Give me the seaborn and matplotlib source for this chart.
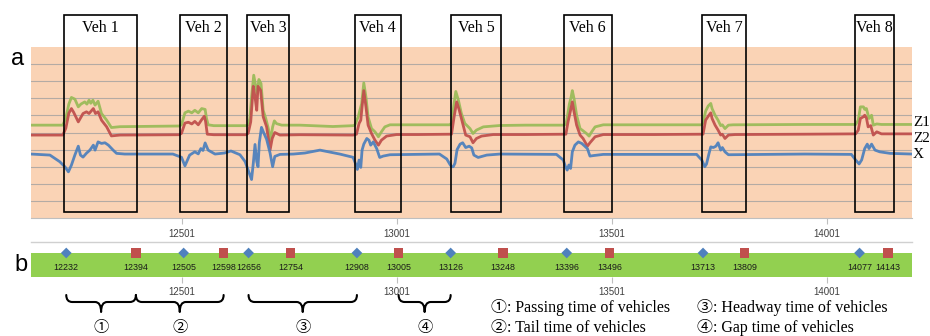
import matplotlib
matplotlib.use("Agg")
import matplotlib.pyplot as plt
import seaborn as sns
import pandas as pd
from matplotlib.patches import Rectangle, PathPatch
from matplotlib.path import Path

# ---------------- data ----------------
z1_t = [12150, 12224, 12231, 12238, 12244, 12252, 12260, 12266, 12275, 12280, 12285, 12289, 12294, 12299, 12306, 12314, 12326, 12337, 12357,
        12495, 12500, 12508, 12516, 12524, 12531, 12539, 12547, 12555, 12558, 12562, 12575,
        12650, 12655, 12659, 12663, 12668, 12673, 12676, 12680, 12685, 12690, 12696, 12702, 12707, 12712, 12716, 12721, 12733,
        12775, 12852, 12899,
        12903, 12911, 12915, 12919, 12924, 12929, 12934, 12942, 12950, 12958, 12965, 12973, 12985, 13050,
        13124, 13128, 13134, 13138, 13144, 13151, 13159, 13171, 13178, 13186, 13202, 13241, 13300,
        13390, 13394, 13397, 13402, 13406, 13409, 13413, 13419, 13427, 13434, 13442, 13448, 13454, 13462, 13481, 13600,
        13710, 13713, 13719, 13725, 13731, 13734, 13741, 13748, 13754, 13758, 13764, 13772, 13783, 13950,
        14068, 14074, 14079, 14086, 14089, 14093, 14099, 14105, 14109, 14117, 14128, 14199]
z1_v = [5.43, 5.43, 5.84, 6.66, 7.05, 6.95, 6.50, 6.66, 6.79, 6.66, 6.89, 6.71, 6.89, 6.60, 6.83, 6.11, 5.72, 5.29, 5.34,
        5.38, 5.45, 6.15, 6.25, 6.15, 6.30, 6.15, 6.40, 6.35, 5.85, 5.45, 5.40,
        5.40, 5.45, 5.82, 7.08, 8.35, 7.66, 7.28, 8.10, 7.86, 6.30, 5.82, 5.23, 4.55, 5.33, 5.68, 5.52, 5.43,
        5.43, 5.35, 5.40,
        5.43, 5.91, 6.31, 6.69, 7.90, 7.08, 5.91, 5.23, 5.04, 4.75, 5.04, 5.33, 5.45, 5.45,
        5.45, 5.55, 6.70, 7.40, 6.89, 6.11, 5.53, 5.23, 4.94, 5.14, 5.33, 5.41, 5.43,
        5.43, 5.50, 5.85, 6.65, 7.05, 7.45, 6.98, 6.01, 5.23, 5.10, 4.94, 4.79, 5.04, 5.33, 5.45, 5.45,
        5.45, 5.55, 6.25, 6.55, 6.70, 6.40, 6.01, 5.72, 5.40, 5.45, 5.23, 5.43, 5.45, 5.47,
        5.47, 5.72, 6.50, 6.50, 6.35, 6.40, 5.82, 6.01, 5.43, 5.50, 5.47, 5.47]

z2_t = [12150, 12224, 12231, 12238, 12244, 12249, 12260, 12271, 12279, 12285, 12295, 12300, 12306, 12314, 12326, 12337, 12357,
        12495, 12500, 12508, 12516, 12524, 12531, 12539, 12547, 12553, 12556, 12560, 12575,
        12650, 12655, 12661, 12667, 12671, 12675, 12678, 12684, 12690, 12698, 12706, 12711, 12717, 12729,
        12775, 12899,
        12907, 12913, 12917, 12920, 12924, 12929, 12934, 12942, 12950, 12958, 12965, 12977, 13000, 13050,
        13128, 13134, 13140, 13146, 13154, 13161, 13171, 13178, 13186, 13198, 13225, 13300,
        13394, 13399, 13405, 13409, 13413, 13419, 13427, 13434, 13444, 13450, 13462, 13481, 13600,
        13713, 13719, 13725, 13731, 13734, 13741, 13748, 13754, 13758, 13764, 13772, 13787, 13950,
        14068, 14074, 14079, 14086, 14089, 14093, 14097, 14103, 14109, 14117, 14128, 14199]
z2_v = [4.85, 4.85, 5.25, 6.13, 6.40, 6.19, 5.62, 6.11, 6.21, 6.11, 6.40, 6.11, 6.21, 5.72, 5.33, 4.80, 4.85,
        4.87, 4.95, 5.55, 5.60, 5.50, 5.65, 5.45, 5.75, 5.95, 5.65, 4.90, 4.87,
        4.87, 4.95, 5.62, 7.70, 7.08, 6.30, 7.70, 7.47, 5.92, 5.33, 3.97, 4.65, 5.00, 4.85,
        4.87, 4.85,
        4.90, 5.53, 5.72, 6.50, 7.45, 6.50, 5.43, 4.94, 4.55, 4.26, 4.55, 4.79, 4.88, 4.88,
        4.90, 5.91, 6.79, 6.31, 5.53, 4.85, 4.75, 4.40, 4.65, 4.79, 4.88, 4.88,
        4.90, 5.62, 6.31, 6.79, 6.21, 5.43, 4.85, 4.65, 4.20, 4.40, 4.75, 4.88, 4.88,
        4.90, 5.72, 5.95, 6.15, 5.82, 5.43, 5.14, 4.85, 4.90, 4.65, 4.85, 4.88, 4.90,
        4.92, 5.14, 5.82, 5.92, 6.01, 5.85, 5.33, 5.40, 4.85, 5.04, 4.92, 4.92]

x_t = [12150, 12194, 12217, 12229, 12237, 12244, 12252, 12260, 12265, 12271, 12279, 12287, 12295, 12299, 12306, 12314, 12322, 12330, 12341, 12349, 12368,
       12480, 12500, 12508, 12519, 12531, 12539, 12545, 12550, 12555, 12562, 12578, 12600, 12615, 12636,
       12648, 12655, 12663, 12667, 12671, 12675, 12678, 12681, 12686, 12691, 12698, 12706, 12712, 12717, 12729, 12760,
       12787, 12822, 12868, 12899,
       12906, 12909, 12913, 12917, 12920, 12924, 12931, 12936, 12940, 12946, 12954, 12961, 12969, 12985, 13100,
       13117, 13124, 13128, 13132, 13136, 13141, 13148, 13154, 13161, 13169, 13175, 13180, 13190, 13210, 13241,
       13372, 13388, 13393, 13397, 13401, 13405, 13409, 13415, 13423, 13431, 13438, 13444, 13450, 13458, 13481,
       13698, 13710, 13717, 13721, 13727, 13731, 13737, 13743, 13748, 13754, 13758, 13764, 13772, 13950,
       14058, 14068, 14076, 14082, 14089, 14095, 14099, 14105, 14113, 14124, 14148, 14199]
x_v = [3.74, 3.68, 3.29, 2.99, 2.70, 3.09, 3.68, 4.20, 3.68, 3.56, 3.79, 3.97, 4.26, 3.97, 4.45, 4.36, 4.40, 4.26, 3.97, 3.78, 3.74,
       3.74, 3.55, 3.05, 3.68, 3.87, 3.75, 4.06, 3.95, 4.39, 3.97, 3.74, 3.80, 3.92, 3.70,
       3.30, 2.80, 2.25, 3.20, 4.30, 3.30, 3.00, 4.40, 5.30, 5.00, 4.60, 3.80, 3.00, 3.60, 3.72, 3.74,
       3.80, 3.97, 3.74, 3.55,
       3.10, 2.84, 3.39, 2.96, 3.97, 4.32, 4.65, 4.55, 4.26, 4.45, 4.06, 3.54, 3.62, 3.70, 3.74,
       3.45, 3.15, 3.00, 3.00, 3.20, 4.00, 4.32, 4.40, 4.12, 4.20, 4.10, 3.68, 3.54, 3.68, 3.74,
       3.72, 3.39, 3.00, 2.80, 3.10, 2.90, 3.87, 4.26, 4.45, 4.36, 4.20, 4.06, 3.62, 3.65, 3.72,
       3.72, 3.39, 3.00, 3.15, 3.78, 4.16, 4.12, 4.20, 4.40, 3.97, 4.12, 3.87, 3.70, 3.74,
       3.72, 3.39, 3.16, 3.40, 4.06, 4.32, 4.06, 4.32, 3.97, 3.87, 3.78, 3.74]

arrive = [12232, 12505, 12656, 12908, 13126, 13396, 13713, 14077]
depart = [12394, 12598, 12754, 13005, 13248, 13496, 13809, 14143]
box_start = [12227, 12496, 12652, 12903, 13127, 13389, 13710, 14066]
box_end = [12396, 12606, 12750, 13010, 13243, 13501, 13813, 14157]
veh_labels = ["Veh 1", "Veh 2", "Veh 3", "Veh 4", "Veh 5", "Veh 6", "Veh 7", "Veh 8"]
series_names = ["Z1", "Z2", "X"]
tick_vals = [12501, 13001, 13501, 14001]
brace_start = [12232, 12394, 12656, 13005]
brace_end = [12394, 12598, 12908, 13126]
brace_labels = ["①", "②", "③", "④"]
legend_texts = ["①: Passing time of vehicles", "②: Tail time of vehicles",
                "③: Headway time of vehicles", "④: Gap time of vehicles"]

# ---------------- styling ----------------
W, H = 930, 336
XMIN, XMAX = 12150, 14199
C_GREEN, C_RED, C_BLUE = "#9BBB59", "#C0504D", "#4F81BD"
SERIF = ["Liberation Serif", "Noto Sans CJK JP", "DejaVu Sans"]
SANS = ["Liberation Sans", "DejaVu Sans"]

fig = plt.figure(figsize=(W / 100, H / 100), dpi=100)
fig.patch.set_facecolor("white")

# ---------------- panel a ----------------
axa = fig.add_axes([31 / W, 1 - 218 / H, 881 / W, 171 / H])
axa.set_facecolor("#FAD3B5")
for t, v, c in [(z1_t, z1_v, C_GREEN), (z2_t, z2_v, C_RED), (x_t, x_v, C_BLUE)]:
    df = pd.DataFrame({"t": t, "v": v})
    sns.lineplot(data=df, x="t", y="v", ax=axa, color=c, lw=2.0,
                 estimator=None, sort=False, legend=False, alpha=0.95, zorder=3)
axa.set_xlim(XMIN, XMAX)
axa.set_ylim(0, 10)
axa.set_yticks(range(1, 10))
axa.set_yticklabels([])
axa.yaxis.grid(True, color="#B4ABA4", lw=0.8)
axa.xaxis.grid(False)
axa.set_axisbelow(True)
axa.tick_params(axis="y", length=0)
axa.set_xticks(tick_vals)
axa.set_xticklabels([str(v) for v in tick_vals], family=SANS)
axa.tick_params(axis="x", labelsize=7, labelcolor="#404040", length=4, color="#BFBFBF", pad=4)
axa.set_xlabel("")
axa.set_ylabel("")
for s in ["left", "right", "top"]:
    axa.spines[s].set_visible(False)
axa.spines["bottom"].set_color("#BFBFBF")

for s, e, lab in zip(box_start, box_end, veh_labels):
    axa.add_patch(Rectangle((s, 0.35), e - s, 11.5, fill=False, ec="black", lw=1.2,
                            clip_on=False, zorder=6))
    axa.text((s + e) / 2, 11.1, lab, ha="center", va="center", fontsize=11.5,
             family=SERIF, clip_on=False, zorder=7)

for name, py in zip(series_names, [122, 138, 155]):
    fig.text(913 / W, 1 - py / H, name, ha="left", va="center", fontsize=11, family=SERIF)

fig.text(18 / W, 1 - 59 / H, "a", ha="center", va="center", fontsize=17, family=SANS)
fig.text(21 / W, 1 - 265 / H, "b", ha="center", va="center", fontsize=17, family=SANS)

# ---------------- panel b ----------------
axb = fig.add_axes([31 / W, 1 - 277 / H, 881 / W, 35 / H])
axb.set_xlim(XMIN, XMAX)
axb.set_ylim(0, 35 / 24)
axb.axhspan(0, 1, color="#92D050", lw=0, zorder=1)
sns.scatterplot(x=arrive, y=[1] * len(arrive), marker="D", s=30, color=C_BLUE,
                edgecolor="none", ax=axb, zorder=4, clip_on=False, legend=False)
sns.scatterplot(x=depart, y=[1] * len(depart), marker="s", s=46, color=C_RED,
                edgecolor="none", ax=axb, zorder=4, clip_on=False, legend=False)
for t in arrive + depart:
    axb.text(t, 0.375, str(t), ha="center", va="center", fontsize=6.4, color="#1a1a1a",
             family=SANS, zorder=5)
axb.set_yticks([])
axb.set_xticks(tick_vals)
axb.set_xticklabels([str(v) for v in tick_vals], family=SANS)
axb.tick_params(axis="x", labelsize=7, labelcolor="#404040", length=4, color="#BFBFBF", pad=3)
axb.set_xlabel("")
axb.set_ylabel("")
for s in ["left", "right", "bottom"]:
    axb.spines[s].set_visible(False)
axb.spines["top"].set_color("#D0D0D0")
axb.spines["top"].set_linewidth(1.0)
axb.set_facecolor("white")

# ---------------- braces ----------------
axc = fig.add_axes([31 / W, 0, 881 / W, 51 / H])
axc.set_xlim(XMIN, XMAX)
axc.set_ylim(0, 51)
axc.axis("off")


def brace(ax, x0, x1, top=41, hor=34, tip=24, r=14):
    xm = (x0 + x1) / 2
    verts = [(x0, top), (x0, hor), (x0 + r, hor), (xm - r, hor), (xm, hor), (xm, tip),
             (xm, hor), (xm + r, hor), (x1 - r, hor), (x1, hor), (x1, top)]
    codes = [Path.MOVETO, Path.CURVE3, Path.CURVE3, Path.LINETO, Path.CURVE3, Path.CURVE3,
             Path.CURVE3, Path.CURVE3, Path.LINETO, Path.CURVE3, Path.CURVE3]
    ax.add_patch(PathPatch(Path(verts, codes), fill=False, ec="black", lw=1.5,
                           capstyle="round", joinstyle="round"))


for s, e, lab in zip(brace_start, brace_end, brace_labels):
    brace(axc, s, e)
    axc.text((s + e) / 2, 8, lab, ha="center", va="center", fontsize=11, family=SERIF)

for txt, (px, py) in zip(legend_texts, [(491, 308), (491, 328), (697, 308), (697, 328)]):
    fig.text(px / W, 1 - py / H, txt, ha="left", va="center", fontsize=11.5, family=SERIF)

fig.savefig("out.png", dpi=100)
